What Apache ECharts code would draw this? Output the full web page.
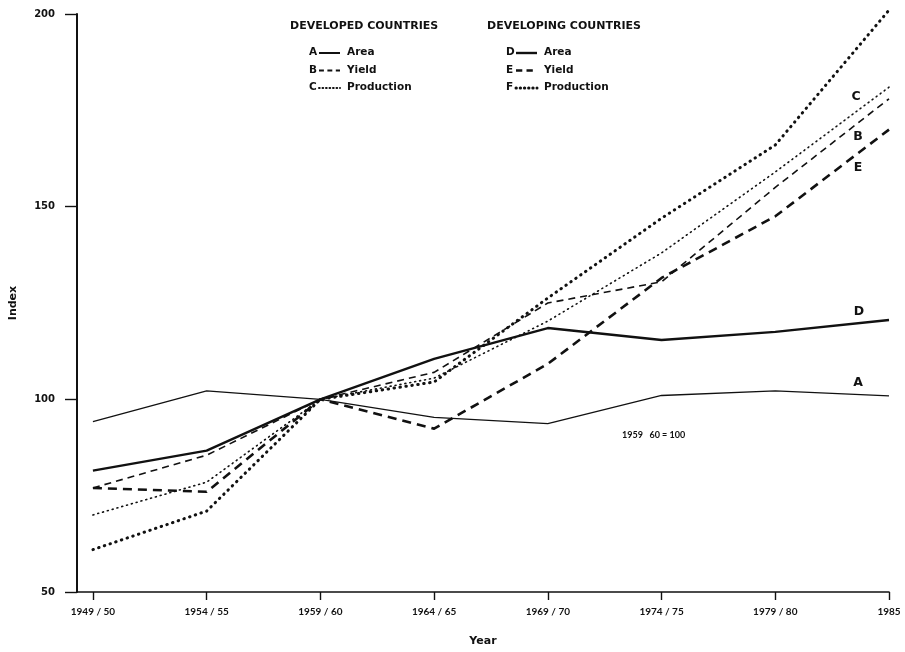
<!DOCTYPE html>
<html>
<head>
<meta charset="utf-8">
<script src="https://cdn.jsdelivr.net/npm/echarts@6/dist/echarts.min.js"></script>
<style>
  html, body { margin: 0; padding: 0; background: #fff; }
  #chart { width: 905px; height: 652px; }
</style>
</head>
<body>
<div id="chart"></div>
<script>
// Periods on the horizontal axis
const periods = ['1949 / 50', '1954 / 55', '1959 / 60', '1964 / 65', '1969 / 70', '1974 / 75', '1979 / 80', '1985'];

// Developed countries (index, 1959/60 = 100)
const devArea       = [94.2, 102.2, 100, 95.3, 93.7, 101.0, 102.2, 100.9];   // A
const devYield      = [77.0, 85.5, 100, 107.0, 125.0, 130.5, 155.0, 178.0];  // B
const devProduction = [70.0, 78.5, 100, 105.5, 120.3, 138.0, 159.0, 181.0];  // C

// Developing countries (index, 1959/60 = 100)
const dgArea        = [81.5, 86.7, 100, 110.5, 118.5, 115.4, 117.5, 120.6];  // D
const dgYield       = [77.0, 76.0, 100, 92.4, 109.2, 131.5, 147.5, 170.0];   // E
const dgProduction  = [61.0, 71.0, 100, 104.5, 126.3, 147.0, 166.0, 201.0];  // F

const yTicks = [50, 100, 150, 200];
const legendLabels = { A: 'Area', B: 'Yield', C: 'Production', D: 'Area', E: 'Yield', F: 'Production' };

const INK = '#111';
const TICK_FONT = 'Lato';
const TEXT_FONT = '"DejaVu Sans"';

// Stroke styles shared by the plotted lines and the key samples
const styles = {
  A: { width: 1.3, type: 'solid', cap: 'butt' },
  B: { width: 1.6, type: [7, 5], cap: 'butt' },
  C: { width: 1.6, type: [1, 4], cap: 'round' },
  D: { width: 2.4, type: 'solid', cap: 'butt' },
  E: { width: 2.6, type: [9, 6], cap: 'butt' },
  F: { width: 3, type: [0.5, 5.5], cap: 'round' }
};

function toPoints(values) {
  return values.map((v, i) => [i, v]);
}

function makeSeries(name, values, labelOffset) {
  const last = values.length - 1;
  const s = styles[name];
  return {
    name: name,
    type: 'line',
    data: toPoints(values),
    showSymbol: false,
    symbol: 'none',
    clip: false,
    silent: true,
    lineStyle: { color: INK, join: 'round', width: s.width, type: s.type, cap: s.cap },
    itemStyle: { color: INK },
    markPoint: {
      symbol: 'circle',
      symbolSize: 0,
      silent: true,
      data: [{ coord: [last, values[last]] }],
      label: {
        show: true,
        formatter: name,
        offset: labelOffset,
        color: INK,
        fontFamily: TEXT_FONT,
        fontWeight: 'bold',
        fontSize: 12.5
      }
    }
  };
}

// Key: group heading, then letter, stroke sample and label per row
function keyGroup(title, names, x0, y0) {
  const els = [{
    type: 'text', left: x0, top: y0 - 6,
    style: { text: title, font: 'bold 11px ' + TEXT_FONT, fill: INK }
  }];
  names.forEach((n, i) => {
    const y = y0 + 26 + i * 17.5;
    const s = styles[n];
    els.push({
      type: 'text', left: x0 + 19, top: y - 6,
      style: { text: n, font: 'bold 10.5px ' + TEXT_FONT, fill: INK }
    });
    els.push({
      type: 'line',
      shape: { x1: x0 + 29, y1: y, x2: x0 + 50, y2: y },
      style: {
        stroke: INK,
        lineWidth: Math.max(s.width, 2),
        lineDash: Array.isArray(s.type) ? s.type.map(d => d * 0.7) : null,
        lineCap: s.cap
      }
    });
    els.push({
      type: 'text', left: x0 + 57, top: y - 6,
      style: { text: legendLabels[n], font: 'bold 10.5px ' + TEXT_FONT, fill: INK }
    });
  });
  return els;
}

const chart = echarts.init(document.getElementById('chart'));

const tickIdx = periods.map((p, i) => i);

chart.setOption({
  backgroundColor: '#fff',
  animation: false,
  grid: { left: 73, right: 16, top: 14, bottom: 58, containLabel: false },
  xAxis: {
    type: 'value',
    min: -0.14,
    max: periods.length - 1,
    name: 'Year',
    nameLocation: 'middle',
    nameGap: 44,
    nameTextStyle: { fontFamily: TEXT_FONT, fontWeight: 'bold', fontSize: 11, color: INK },
    axisLine: { show: true, onZero: false, lineStyle: { color: INK, width: 1.6 } },
    axisTick: { show: true, customValues: tickIdx, length: 8, lineStyle: { color: INK, width: 1.4 } },
    axisLabel: {
      customValues: tickIdx,
      formatter: v => periods[Math.round(v)],
      margin: 15,
      fontFamily: TICK_FONT,
      fontWeight: 'bold',
      fontSize: 10,
      color: INK
    },
    splitLine: { show: false }
  },
  yAxis: {
    type: 'value',
    min: 50,
    max: 200,
    interval: 50,
    name: 'Index',
    nameLocation: 'middle',
    nameGap: 58,
    nameTextStyle: { fontFamily: TEXT_FONT, fontWeight: 'bold', fontSize: 11, color: INK },
    axisLine: { show: true, onZero: false, lineStyle: { color: INK, width: 2 } },
    axisTick: { show: true, length: 12, lineStyle: { color: INK, width: 1.4 } },
    axisLabel: {
      margin: 22,
      formatter: v => (yTicks.includes(v) ? String(v) : ''),
      fontFamily: TEXT_FONT,
      fontWeight: 'bold',
      fontSize: 10,
      color: INK
    },
    splitLine: { show: false }
  },
  graphic: [
    ...keyGroup('DEVELOPED COUNTRIES', ['A', 'B', 'C'], 290, 27),
    ...keyGroup('DEVELOPING COUNTRIES', ['D', 'E', 'F'], 487, 27),
    { type: 'text', left: 622, top: 431, style: { text: '1959   60 = 100', font: 'bold 9px Lato', fill: INK } }
  ],
  series: [
    makeSeries('A', devArea,       [-31, -13]),
    makeSeries('B', devYield,      [-31, 38]),
    makeSeries('C', devProduction, [-33, 10]),
    makeSeries('D', dgArea,        [-30, -8]),
    makeSeries('E', dgYield,       [-31, 38]),
    makeSeries('F', dgProduction,  [-32, 23])
  ]
});
</script>
</body>
</html>
